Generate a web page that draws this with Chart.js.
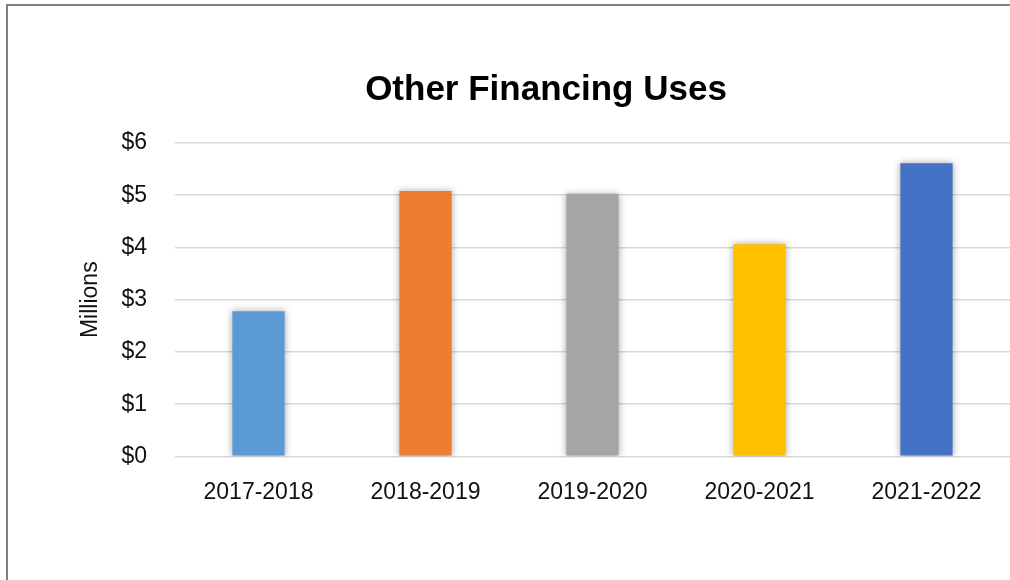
<!DOCTYPE html>
<html>
<head>
<meta charset="utf-8">
<script src="https://cdn.jsdelivr.net/npm/chart.js@4/dist/chart.umd.min.js"></script>
<style>
    body { margin: 0; background: #fff; overflow: hidden; }
    .frame {
        position: absolute; left: 6px; top: 4px; width: 1100px; height: 700px;
        border-top: 2px solid #808080; border-left: 2px solid #808080;
    }
    .wrap { position: absolute; left: 0; top: 0; width: 1010px; height: 580px; }
</style>
</head>
<body>
<div class="frame"></div>
<div class="wrap"><canvas id="myChart" width="1010" height="580"></canvas></div>
<script>
// Data
const categories = ['2017-2018', '2018-2019', '2019-2020', '2020-2021', '2021-2022'];
const values = [2.78, 5.08, 5.03, 4.06, 5.61];
const barColors = ['#5B9BD5', '#ED7D31', '#A5A5A5', '#FFC000', '#4472C4'];
const yMin = 0;
const yMax = 6;
const yStep = 1;

// Soft shadow behind the bars
const barShadow = {
    id: 'barShadow',
    beforeDatasetsDraw(chart) {
        const ctx = chart.ctx;
        ctx.save();
        ctx.shadowColor = 'rgba(0, 0, 0, 0.35)';
        ctx.shadowBlur = 7;
        ctx.shadowOffsetX = 0;
        ctx.shadowOffsetY = 0;
    },
    afterDatasetsDraw(chart) {
        chart.ctx.restore();
    }
};

const ctx = document.getElementById('myChart').getContext('2d');
new Chart(ctx, {
    type: 'bar',
    data: {
        labels: categories,
        datasets: [{
            data: values,
            backgroundColor: barColors,
            borderWidth: 0,
            categoryPercentage: 1,
            barPercentage: 0.313
        }]
    },
    options: {
        responsive: false,
        animation: false,
        layout: { padding: { left: 82, right: 0, top: 0, bottom: 52 } },
        plugins: {
            legend: { display: false },
            tooltip: { enabled: false },
            title: {
                display: true,
                text: 'Other Financing Uses',
                color: '#000',
                font: { family: 'Liberation Sans', size: 35, weight: 'bold', lineHeight: 1.2 },
                padding: { top: 69, bottom: 32 }
            }
        },
        scales: {
            x: {
                grid: { display: false, drawTicks: false },
                border: { display: false },
                ticks: {
                    color: '#111',
                    padding: 22,
                    font: { family: 'Liberation Sans', size: 23, lineHeight: 1.2 }
                }
            },
            y: {
                min: yMin,
                max: yMax,
                afterFit(scale) { scale.width = 93; },
                grid: { color: '#d9d9d9', lineWidth: 1.6, drawTicks: false },
                border: { display: false },
                ticks: {
                    stepSize: yStep,
                    color: '#111',
                    padding: 28,
                    font: { family: 'Liberation Sans', size: 23 },
                    callback: v => '$' + v
                },
                title: {
                    display: true,
                    text: 'Millions',
                    color: '#111',
                    padding: { top: -5, bottom: 0 },
                    font: { family: 'Liberation Sans', size: 23, lineHeight: 1.2 }
                }
            }
        }
    },
    plugins: [barShadow]
});
</script>
</body>
</html>
